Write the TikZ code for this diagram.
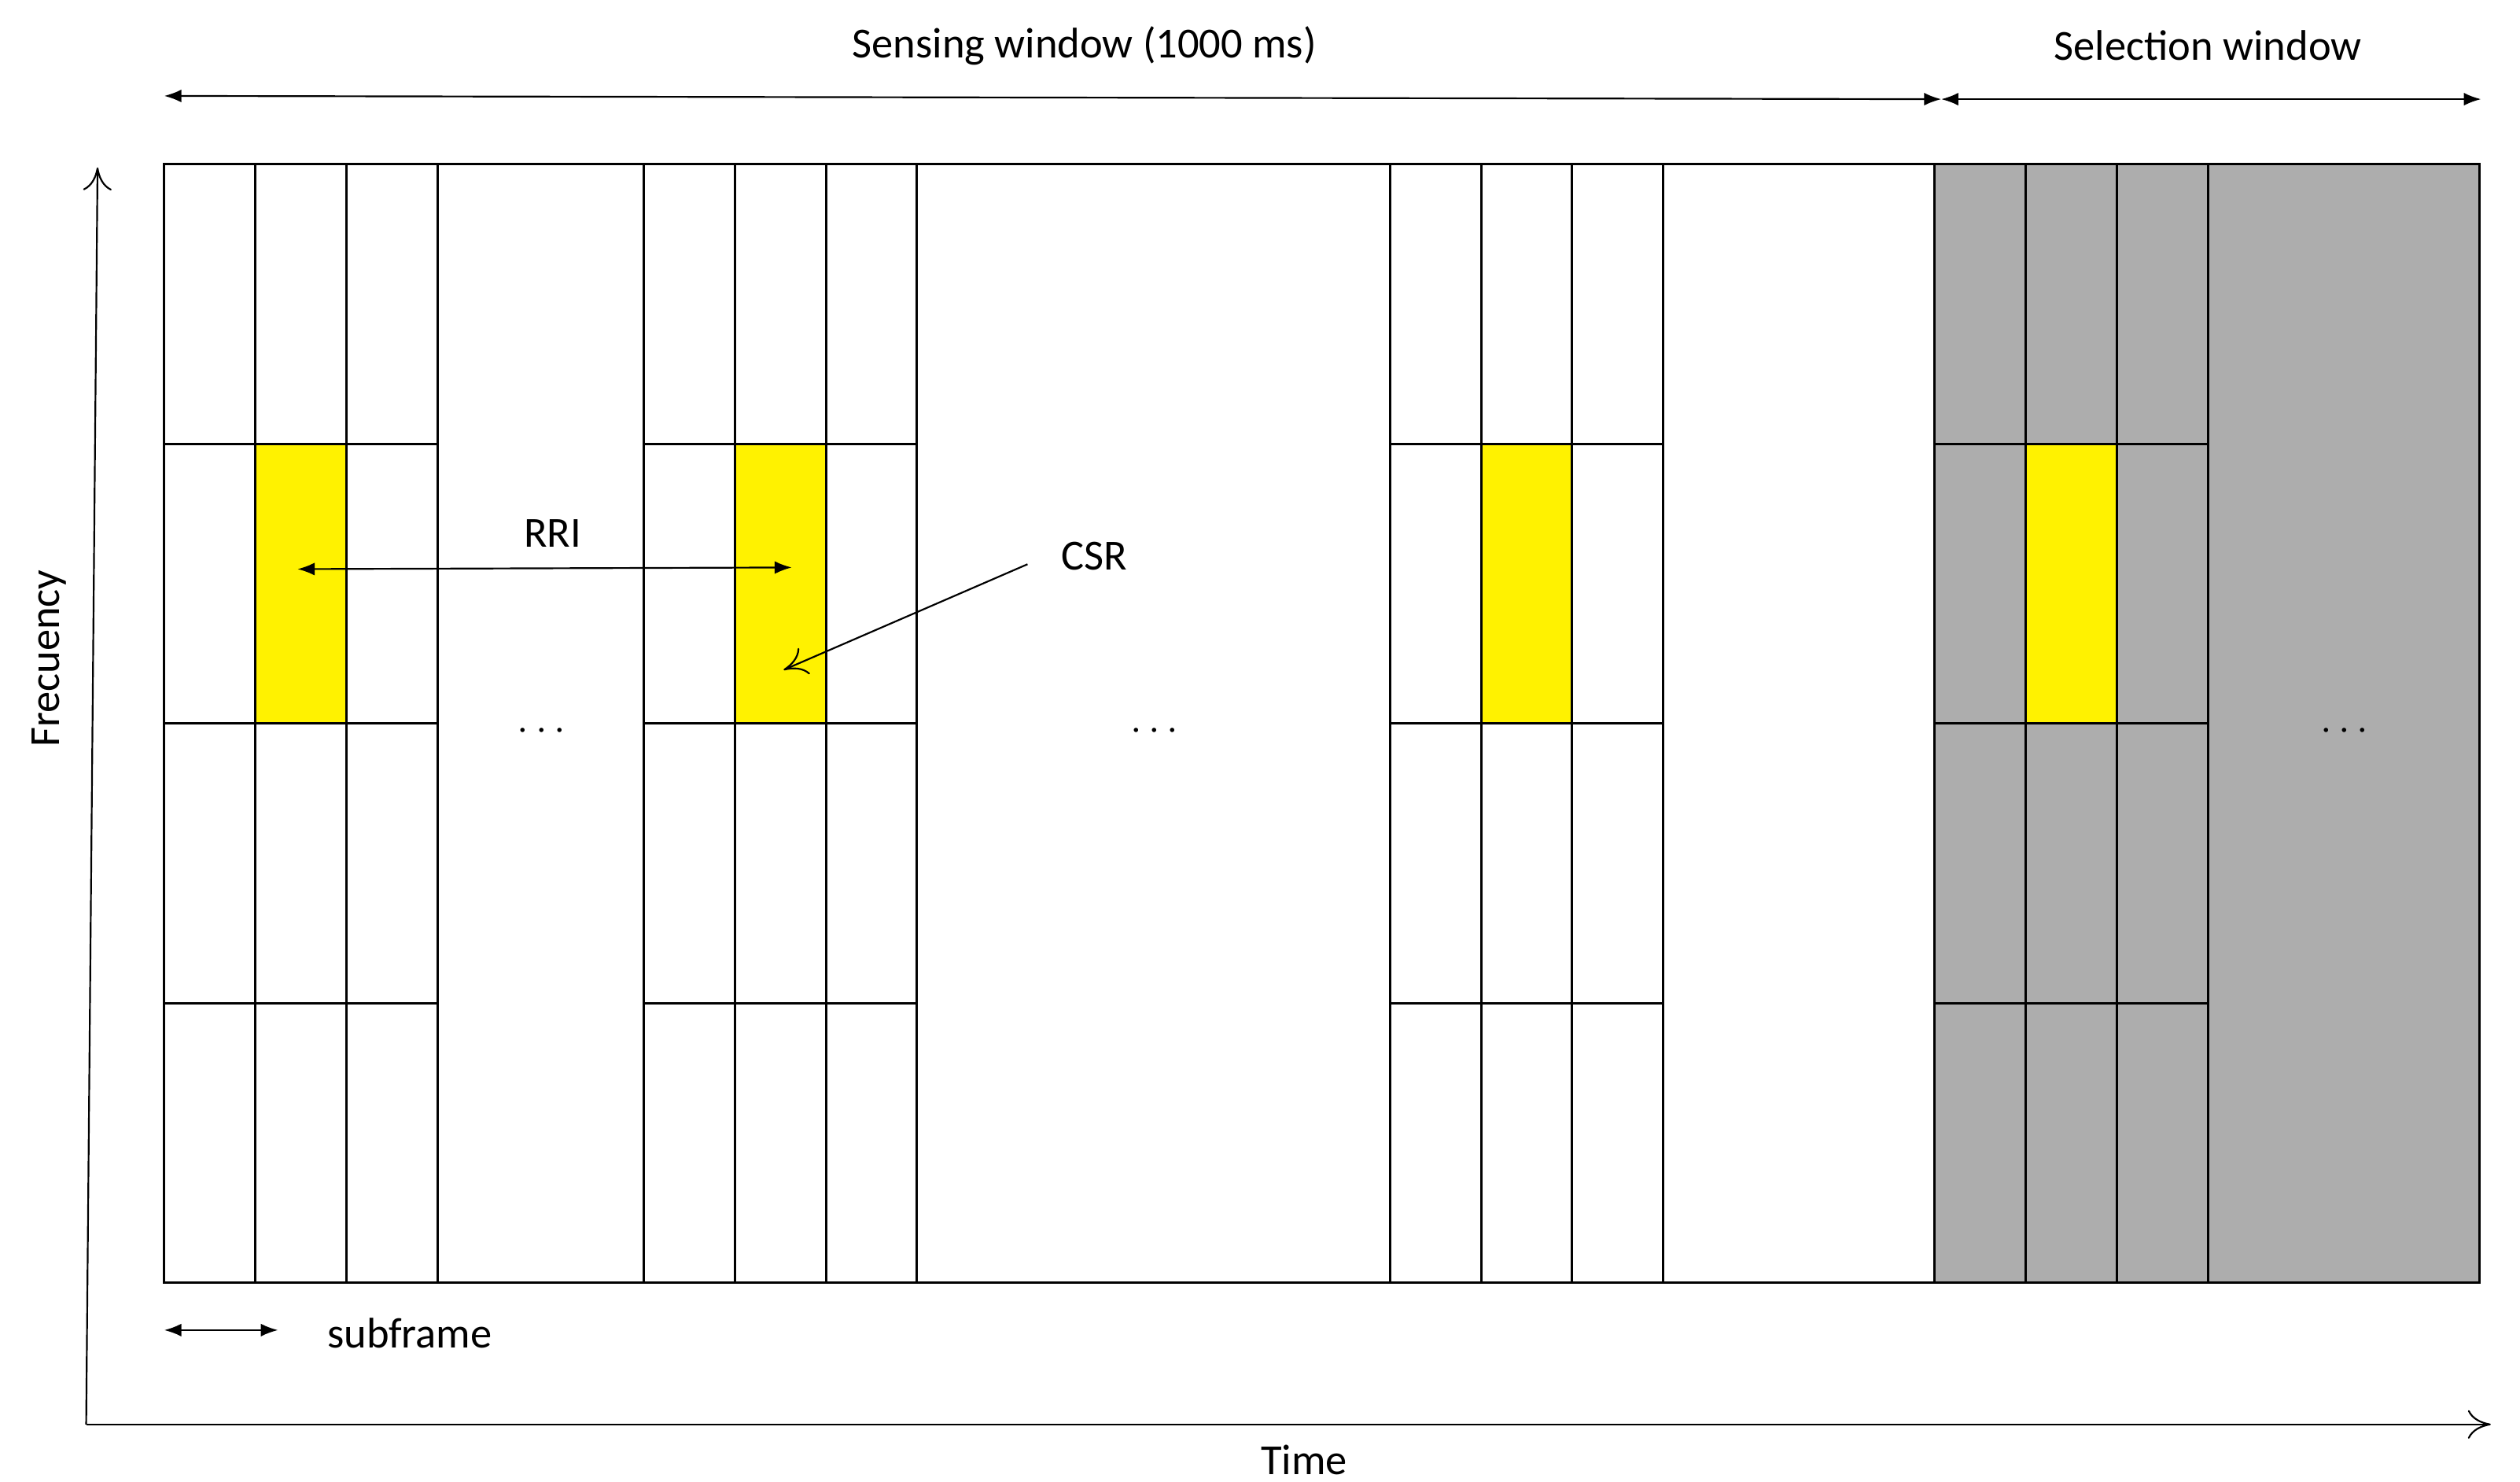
\documentclass[tikz,border=0pt]{standalone}
\usepackage{fontspec}
\setmainfont{Carlito}
\usetikzlibrary{arrows.meta,positioning}
\begin{document}
\begin{tikzpicture}[x=0.02cm,y=-0.02cm,
  every node/.style={font=\fontsize{15}{18}\selectfont},
  cell/.style={draw=black,line width=0.8pt},
  csr/.style={fill=yellow},
  arr/.style={{Latex[length=6pt]}-{Latex[length=6pt]},line width=0.6pt},
  axis/.style={-{To[length=8pt,width=10pt]},line width=0.6pt}]
\useasboundingbox (0,0) rectangle (1550,911);

% ventana de seleccion
\fill[black!32] (1190,101) rectangle (1525,789);
% recursos candidatos
\foreach \x in {157,452,911,1246}
{ \fill[csr] (\x,273) rectangle ++(56,172);
}
% marco
\draw[cell] (101,101) rectangle (1525,789);
% grupos de subtramas
\foreach \g in {101,396,855,1190}
{ \foreach \i in {0,...,3}
  { \draw[cell] (\g+\i*56,101) -- (\g+\i*56,789);
  }
  \foreach \y in {273,445,617}
  { \draw[cell] (\g,\y) -- (\g+168,\y);
  }
}
\foreach \x in {333,710,1442}
{ \node at (\x,450) {$\cdots$};
}

% ejes
\coordinate (origin) at (53,876);
\coordinate (ftop) at (60,103);
\coordinate (tend) at (1532,876);
\draw[axis] (origin) -- (ftop);
\draw[axis] (origin) -- (tend);
\node[rotate=90] (freq) at (30,405) {Frecuency};
\node (time) at (802,898) {Time};

% ventanas
\coordinate (sw1) at (101,59);
\coordinate (sw2) at (1194,61);
\coordinate (sel2) at (1526,61);
\draw[arr] (sw1) -- (sw2);
\draw[arr] (sw2) -- (sel2);
\node (sensing) at (667,28) {Sensing window (1000 ms)};
\node (selection) at (1358,28) {Selection window};

% RRI y CSR
\coordinate (rri1) at (183,350);
\coordinate (rri2) at (487,349);
\draw[arr] (rri1) -- (rri2);
\node (rri) at (340,328) {RRI};
\node (csrlabel) at (673,342) {CSR};
\coordinate (csrtip) at (482,412);
\draw[-{To[length=8pt,width=10pt]},line width=0.6pt] (632,347) -- (csrtip);

% subtrama
\coordinate (sf1) at (101,818);
\coordinate (sf2) at (171,818);
\draw[arr] (sf1) -- (sf2);
\node (subframe) at (252,820) {subframe};
\end{tikzpicture}
\end{document}
